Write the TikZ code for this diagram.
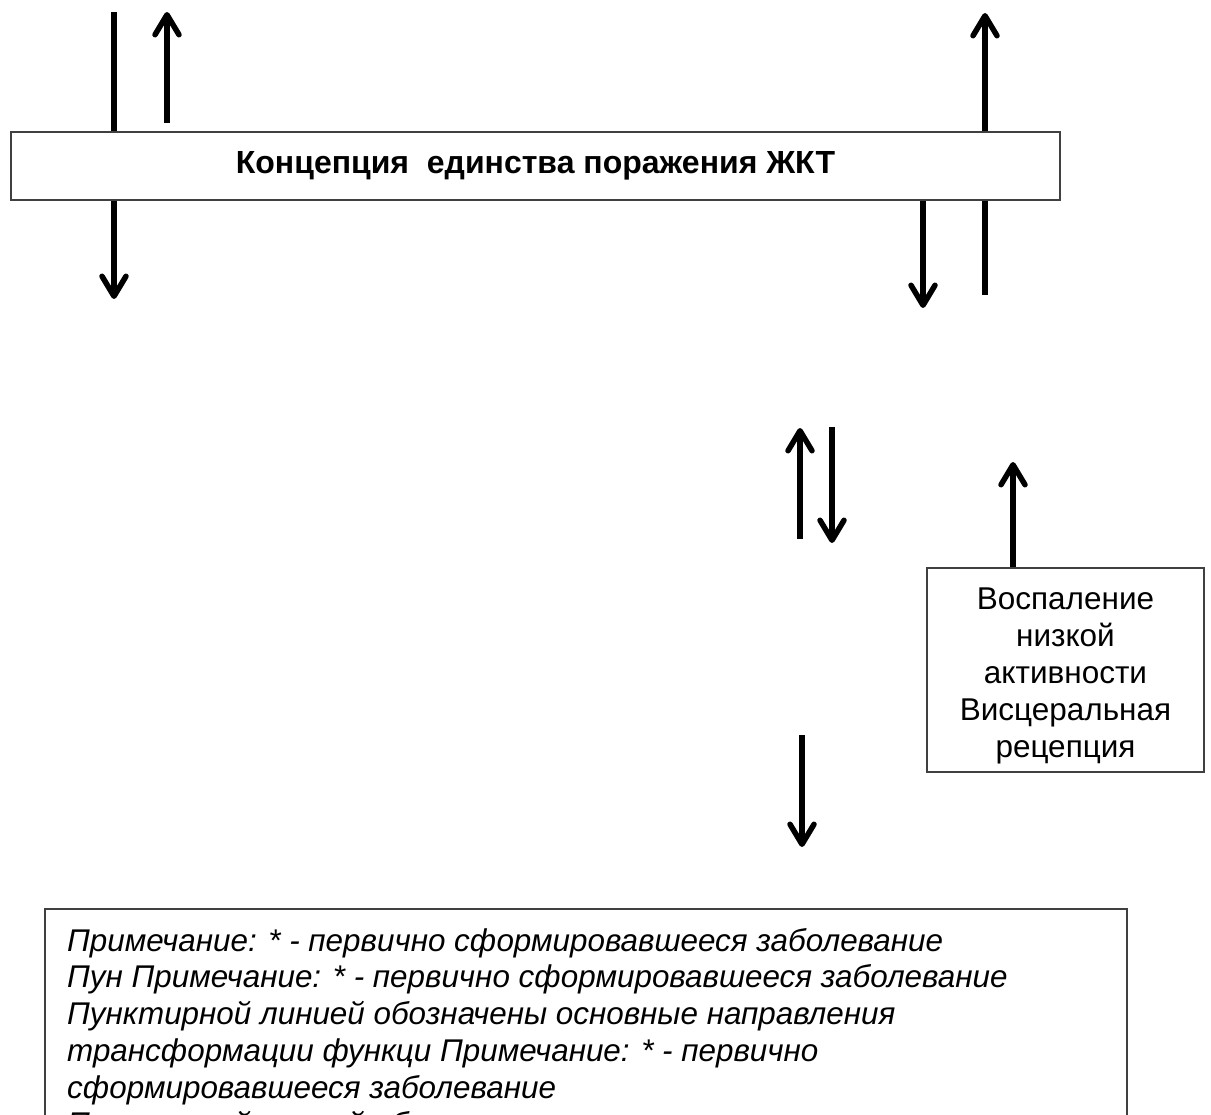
\documentclass[tikz,border=0pt]{standalone}
\usepackage{fontspec}
\setmainfont{Liberation Sans}
\usetikzlibrary{arrows.meta}
\begin{document}
\begin{tikzpicture}[x=1pt,y=-1pt,
  box/.style={draw=black!75, line width=1.2pt, fill=white, inner sep=0pt},
  arr/.style={line width=5.5pt, -{Straight Barb[length=20pt,width=24pt,round]}},
  ln/.style={line width=5.5pt}]
\useasboundingbox (0,0) rectangle (1211,1115);
\clip (0,0) rectangle (1211,1115);
% boxes
\node[box, minimum width=1049pt, minimum height=68pt, font=\fontsize{32}{36}\selectfont\bfseries] (concept) at (535.5,166)
  {Концепция\ \ единства поражения ЖКТ};
\node[box, minimum width=277pt, minimum height=204pt] (infl) at (1065.5,670) {};
\node[align=center, inner sep=0pt, font=\fontsize{31.5}{37.2}\selectfont] (infltext) at (1065.5,676)
  {Воспаление\\низкой\\активности\\Висцеральная\\рецепция};
\draw[black!75, line width=1.2pt] (45,909) rectangle (1127,1160);
\node[anchor=north west, align=left, inner sep=0pt, font=\fontsize{31.4}{36.7}\selectfont\itshape] (note) at (67,928)
  {Примечание: * - первично сформировавшееся заболевание\\
   Пун Примечание: * - первично сформировавшееся заболевание\\
   Пунктирной линией обозначены основные направления\\
   трансформации функци Примечание: * - первично\\
   сформировавшееся заболевание\\
   Пунктирной линией обозначены основные направления};
% coordinates
\coordinate (a1top) at (114,12);
\coordinate (a1tip) at (114,299);
\coordinate (a2base) at (167,123);
\coordinate (a2tip) at (167,12);
\coordinate (a3tip) at (985,13);
\coordinate (a4end) at (985,295);
\coordinate (a5tip) at (923,308);
\coordinate (m1base) at (800,539);
\coordinate (m1tip) at (800,428);
\coordinate (m2base) at (832,427);
\coordinate (m2tip) at (832,543);
\coordinate (m3tip) at (1013,462);
\coordinate (m4base) at (802,735);
\coordinate (m4tip) at (802,847);
% connectors
\draw[ln] (a1top) -- (concept.north -| a1top);
\draw[arr] (concept.south -| a1tip) -- (a1tip);
\draw[arr] (a2base) -- (a2tip);
\draw[arr] (concept.north -| a3tip) -- (a3tip);
\draw[ln] (concept.south -| a4end) -- (a4end);
\draw[arr] (concept.south -| a5tip) -- (a5tip);
\draw[arr] (m1base) -- (m1tip);
\draw[arr] (m2base) -- (m2tip);
\draw[arr] (infl.north -| m3tip) -- (m3tip);
\draw[arr] (m4base) -- (m4tip);
\end{tikzpicture}
\end{document}
